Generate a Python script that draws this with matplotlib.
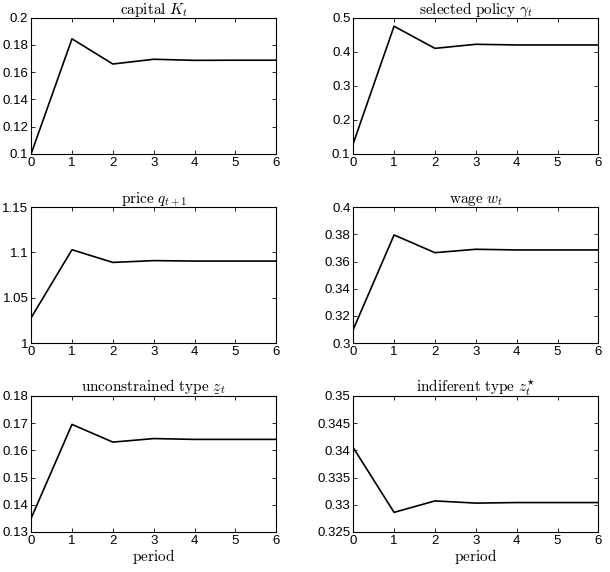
import numpy as np
import matplotlib
matplotlib.use("Agg")
import matplotlib.pyplot as plt

plt.rcParams['font.family'] = ['Liberation Sans', 'DejaVu Sans']
plt.rcParams['mathtext.fontset'] = 'cm'

period = [0, 1, 2, 3, 4, 5, 6]

capital = [0.1, 0.1845, 0.166, 0.1695, 0.1687, 0.1688, 0.1688]
policy = [0.13, 0.475, 0.41, 0.422, 0.42, 0.42, 0.42]
price = [1.028, 1.103, 1.089, 1.091, 1.0905, 1.0905, 1.0905]
wage = [0.31, 0.3795, 0.3665, 0.369, 0.3685, 0.3685, 0.3685]
z_unc = [0.135, 0.1695, 0.163, 0.1643, 0.164, 0.164, 0.164]
z_ind = [0.3405, 0.3286, 0.3307, 0.3303, 0.3304, 0.3304, 0.3304]

titles = [r'$\mathrm{capital}\ K_t$', r'$\mathrm{selected\ policy}\ \gamma_t$',
          r'$\mathrm{price}\ q_{t+1}$', r'$\mathrm{wage}\ w_t$',
          r'$\mathrm{unconstrained\ type}\ \underset{\_}{z}_t$',
          r'$\mathrm{indiferent\ type}\ z_t^{\star}$']
series = [capital, policy, price, wage, z_unc, z_ind]
ylims = [(0.1, 0.2), (0.1, 0.5), (1.0, 1.15), (0.3, 0.4), (0.13, 0.18), (0.325, 0.35)]
yticks = [np.arange(0.1, 0.2001, 0.02), np.arange(0.1, 0.5001, 0.1),
          [1, 1.05, 1.1, 1.15], np.arange(0.3, 0.4001, 0.02),
          np.arange(0.13, 0.1801, 0.01), np.arange(0.325, 0.3501, 0.005)]
ylabels = [['0.1', '0.12', '0.14', '0.16', '0.18', '0.2'],
           ['0.1', '0.2', '0.3', '0.4', '0.5'],
           ['1', '1.05', '1.1', '1.15'],
           ['0.3', '0.32', '0.34', '0.36', '0.38', '0.4'],
           ['0.13', '0.14', '0.15', '0.16', '0.17', '0.18'],
           ['0.325', '0.33', '0.335', '0.34', '0.345', '0.35']]

fig = plt.figure(figsize=(6.1, 5.72), dpi=100)
lefts = [0.051, 0.579]
bottoms = [0.731, 0.400, 0.070]

for i in range(6):
    ax = fig.add_axes([lefts[i % 2], bottoms[i // 2], 0.402, 0.238])
    ax.plot(period, series[i], color='black', linewidth=1.2)
    ax.set_xlim(0, 6)
    ax.set_ylim(*ylims[i])
    ax.set_xticks(period)
    ax.set_yticks(yticks[i])
    ax.set_yticklabels(ylabels[i])
    ax.tick_params(direction='in', top=True, right=True, labelsize=9.5,
                   length=3, width=0.6, pad=2)
    for s in ax.spines.values():
        s.set_linewidth(0.8)
    ax.set_title(titles[i], fontsize=11, pad=3)
    if i >= 4:
        ax.set_xlabel(r'$\mathrm{period}$', fontsize=11, labelpad=0)

plt.savefig('out.png', dpi=100)
